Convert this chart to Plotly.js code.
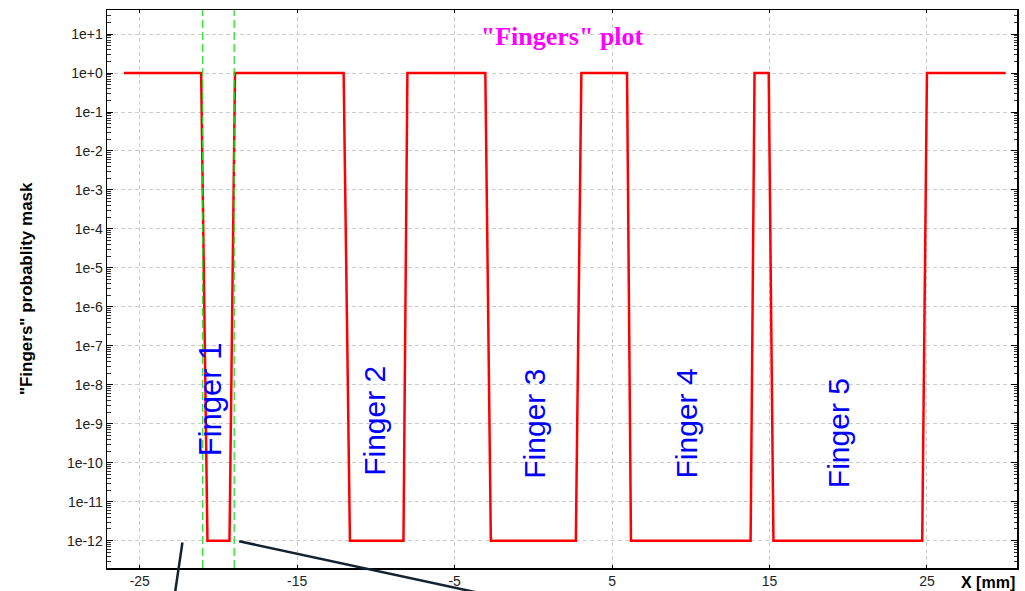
<!DOCTYPE html>
<html>
<head>
<meta charset="utf-8">
<script src="https://cdn.plot.ly/plotly-3.0.1.min.js"></script>
<style>
  html, body { margin: 0; padding: 0; background: #ffffff; }
  #chart { width: 1025px; height: 591px; }
</style>
</head>
<body>
<div id="chart"></div>
<script>
// Mask profile: vertices of the piecewise-linear transmission curve
const xMm = [-26, -21.1, -20.7, -19.3, -18.95,
             -12.05, -11.65, -8.25, -8.0,
             -3.05, -2.7, 2.7, 3.05,
             5.95, 6.2, 13.8, 14.05,
             14.95, 15.25, 24.7, 25.0, 30];
const maskValue = [1, 1, 1e-12, 1e-12, 1,
                   1, 1e-12, 1e-12, 1,
                   1, 1e-12, 1e-12, 1,
                   1, 1e-12, 1e-12, 1,
                   1, 1e-12, 1e-12, 1, 1];

// Axis ticks
const yTickVals = [1e1, 1e0, 1e-1, 1e-2, 1e-3, 1e-4, 1e-5, 1e-6, 1e-7, 1e-8, 1e-9, 1e-10, 1e-11, 1e-12];
const yTickText = ['1e+1', '1e+0', '1e-1', '1e-2', '1e-3', '1e-4', '1e-5', '1e-6', '1e-7', '1e-8', '1e-9', '1e-10', '1e-11', '1e-12'];
const xTickVals = [-25, -15, -5, 5, 15, 25];

// Finger labels (x in mm, y as log10 of the mask value)
const fingerNames = ['Finger 1', 'Finger 2', 'Finger 3', 'Finger 4', 'Finger 5'];
const fingerLabelX = [-20.5, -10.05, 0.1, 9.7, 19.35];
const fingerLabelLogY = [-8.38, -8.92, -9.0, -8.99, -9.24];
const fingerLabelSize = [31, 30, 30, 30, 30];

// Edges of finger 1 marked with dashed guides
const guideX = [-21, -19];

// Minor log ticks: 2..9 within every decade on the y axis
const minorVals = [];
for (let e = -13; e <= 1; e++) {
  for (let m = 2; m <= 9; m++) minorVals.push(m * Math.pow(10, e));
}

const sans = '"Liberation Sans", Arial, sans-serif';
const serif = '"Liberation Serif", "Times New Roman", serif';

const trace = {
  x: xMm,
  y: maskValue,
  type: 'scatter',
  mode: 'lines',
  line: { color: '#ff0000', width: 2.5 },
  hoverinfo: 'skip',
  showlegend: false
};

const shapes = guideX.map(x => ({
  type: 'line', xref: 'x', yref: 'paper',
  x0: x, x1: x, y0: 0, y1: 1,
  line: { color: '#22dd22', width: 1.2, dash: '8px,4px' }
}));

// Leader lines running off the bottom of the figure
shapes.push({
  type: 'line', xref: 'paper', yref: 'paper',
  x0: 0.0829, y0: 0.0456, x1: 0.0735, y1: -0.058,
  line: { color: '#14232f', width: 2.5 }
});
shapes.push({
  type: 'line', xref: 'paper', yref: 'paper',
  x0: 0.1452, y0: 0.0479, x1: 0.4469, y1: -0.058,
  line: { color: '#14232f', width: 2.5 }
});

const annotations = fingerNames.map((name, i) => ({
  text: name, x: fingerLabelX[i], y: fingerLabelLogY[i],
  xref: 'x', yref: 'y', showarrow: false, textangle: -90,
  xanchor: 'center', yanchor: 'middle',
  font: { family: sans, size: fingerLabelSize[i], color: '#0000ff' }
}));

annotations.push({
  text: '<b>"Fingers" probablity mask</b>',
  xref: 'paper', yref: 'paper', x: -0.0889, y: 0.5,
  textangle: -90, showarrow: false, xanchor: 'center', yanchor: 'middle',
  font: { family: sans, size: 17, color: '#000000' }
});
annotations.push({
  text: '<b>X [mm]</b>',
  xref: 'paper', yref: 'paper', x: 1, y: -0.0257,
  showarrow: false, xanchor: 'right', yanchor: 'middle',
  font: { family: sans, size: 16, color: '#000000' }
});

const layout = {
  width: 1025,
  height: 591,
  margin: { l: 107, r: 8, t: 10, b: 23 },
  paper_bgcolor: '#ffffff',
  plot_bgcolor: '#ffffff',
  showlegend: false,
  title: {
    text: '<b>"Fingers" plot</b>',
    xref: 'paper', x: 0.5, xanchor: 'center',
    yref: 'container', y: 0.94, yanchor: 'middle',
    font: { family: serif, size: 26, color: '#ff00ff' }
  },
  xaxis: {
    type: 'linear',
    range: [-27.08, 30.72],
    tickmode: 'array',
    tickvals: xTickVals,
    ticktext: xTickVals.map(String),
    ticks: 'inside', ticklen: 3, tickwidth: 1, tickcolor: '#000000',
    showline: true, linecolor: '#000000', linewidth: 1.5, mirror: 'ticks',
    showgrid: true, gridcolor: '#cccccc', gridwidth: 1, griddash: '4px,3px',
    zeroline: false,
    tickfont: { family: sans, size: 14, color: '#222222' },
    fixedrange: true
  },
  yaxis: {
    type: 'log',
    range: [-12.70, 1.617],
    tickmode: 'array',
    tickvals: yTickVals,
    ticktext: yTickText,
    ticks: 'inside', ticklen: 6, tickwidth: 1, tickcolor: '#000000',
    minor: { tickmode: 'array', tickvals: minorVals, ticks: 'inside', ticklen: 3.5, tickwidth: 1, tickcolor: '#333333', showgrid: false },
    showline: true, linecolor: '#000000', linewidth: 1.5, mirror: 'ticks',
    showgrid: true, gridcolor: '#cccccc', gridwidth: 1, griddash: '4px,3px',
    zeroline: false,
    tickfont: { family: sans, size: 14, color: '#222222' },
    fixedrange: true
  },
  shapes: shapes,
  annotations: annotations
};

Plotly.newPlot('chart', [trace], layout, { staticPlot: true, displayModeBar: false });
</script>
</body>
</html>
